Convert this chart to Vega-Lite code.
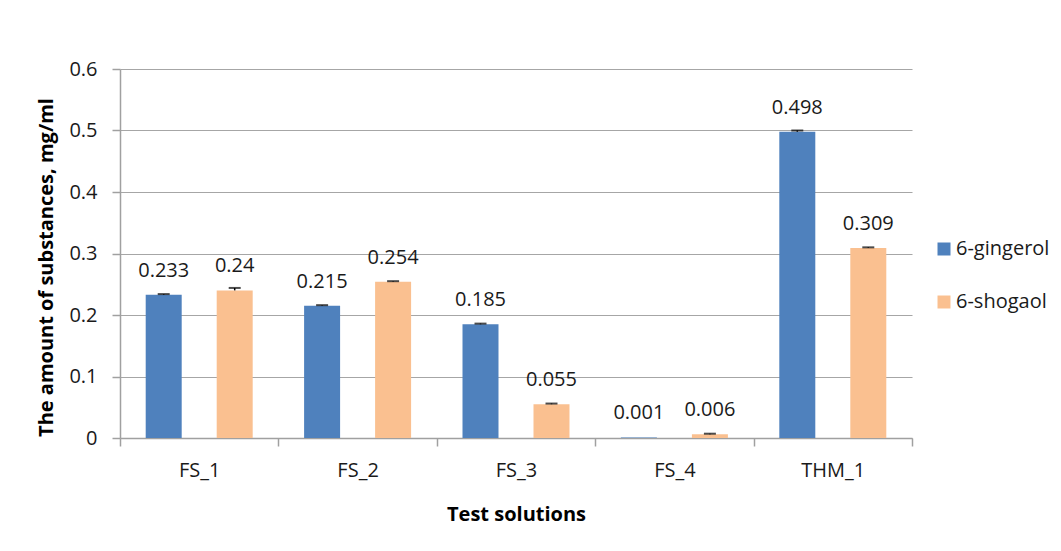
{
  "$schema": "https://vega.github.io/schema/vega-lite/v6.json",
  "autosize": "none",
  "width": 792,
  "height": 369,
  "padding": {"left": 120, "top": 69, "right": 149, "bottom": 113},
  "background": "white",
  "data": {
    "values": [
      {"solution": "FS_1", "substance": "6-gingerol", "value": 0.233, "err": 0.001},
      {"solution": "FS_1", "substance": "6-shogaol", "value": 0.24, "err": 0.004},
      {"solution": "FS_2", "substance": "6-gingerol", "value": 0.215, "err": 0.001},
      {"solution": "FS_2", "substance": "6-shogaol", "value": 0.254, "err": 0.001},
      {"solution": "FS_3", "substance": "6-gingerol", "value": 0.185, "err": 0.001},
      {"solution": "FS_3", "substance": "6-shogaol", "value": 0.055, "err": 0.001},
      {"solution": "FS_4", "substance": "6-gingerol", "value": 0.001, "err": 0},
      {"solution": "FS_4", "substance": "6-shogaol", "value": 0.006, "err": 0.001},
      {"solution": "THM_1", "substance": "6-gingerol", "value": 0.498, "err": 0.002},
      {"solution": "THM_1", "substance": "6-shogaol", "value": 0.309, "err": 0.001}
    ]
  },
  "transform": [
    {"calculate": "datum.value + datum.err", "as": "hi"}
  ],
  "encoding": {
    "x": {
      "field": "solution",
      "type": "nominal",
      "sort": null,
      "title": "Test solutions",
      "scale": {"paddingInner": 0, "paddingOuter": 0},
      "axis": {
        "labelAngle": 0,
        "tickBand": "extent",
        "tickSize": 8,
        "labelPadding": 14,
        "titlePadding": 24
      }
    },
    "xOffset": {
      "field": "substance",
      "type": "nominal",
      "scale": {"paddingInner": 0.493, "paddingOuter": 0.362}
    }
  },
  "layer": [
    {
      "mark": "bar",
      "encoding": {
        "y": {
          "field": "value",
          "type": "quantitative",
          "title": "The amount of substances, mg/ml",
          "scale": {"domain": [0, 0.6], "nice": false},
          "axis": {
            "values": [0, 0.1, 0.2, 0.3, 0.4, 0.5, 0.6],
            "format": ".1~f",
            "tickSize": 8,
            "labelPadding": 15,
            "titlePadding": 12,
            "titleY": 198
          }
        },
        "color": {
          "field": "substance",
          "type": "nominal",
          "scale": {"domain": ["6-gingerol", "6-shogaol"], "range": ["#4F81BD", "#FAC090"]},
          "legend": {
            "title": null,
            "orient": "none",
            "legendX": 814,
            "legendY": 170,
            "symbolType": "square",
            "symbolSize": 169,
            "symbolStrokeWidth": 0,
            "labelFontSize": 20,
            "labelOffset": 2,
            "rowPadding": 33
          }
        }
      }
    },
    {
      "transform": [{"filter": "datum.err > 0"}],
      "mark": {"type": "rule", "color": "black", "strokeWidth": 1.5},
      "encoding": {
        "y": {"field": "value", "type": "quantitative"},
        "y2": {"field": "hi"}
      }
    },
    {
      "transform": [{"filter": "datum.err > 0"}],
      "mark": {"type": "tick", "color": "black", "size": 12, "thickness": 2},
      "encoding": {
        "y": {"field": "hi", "type": "quantitative"}
      }
    },
    {
      "mark": {"type": "text", "baseline": "middle", "dy": -24, "fontSize": 20, "color": "#1a1a1a"},
      "encoding": {
        "y": {"field": "value", "type": "quantitative"},
        "text": {"field": "value", "type": "quantitative", "format": ".3~f"}
      }
    }
  ],
  "config": {
    "font": "Open Sans",
    "view": {"stroke": null},
    "axis": {
      "labelFont": "Open Sans",
      "labelFontSize": 20,
      "labelColor": "#1a1a1a",
      "titleFont": "Open Sans",
      "titleFontSize": 20,
      "titleFontWeight": "bold",
      "titleColor": "#000000",
      "domainColor": "#A0A0A0",
      "domainWidth": 1.5,
      "tickColor": "#A0A0A0",
      "tickWidth": 1.5,
      "gridColor": "#A6A6A6",
      "gridWidth": 1.2
    },
    "axisX": {"grid": false},
    "axisY": {"grid": true},
    "legend": {"labelFont": "Open Sans", "labelColor": "#1a1a1a"}
  }
}
